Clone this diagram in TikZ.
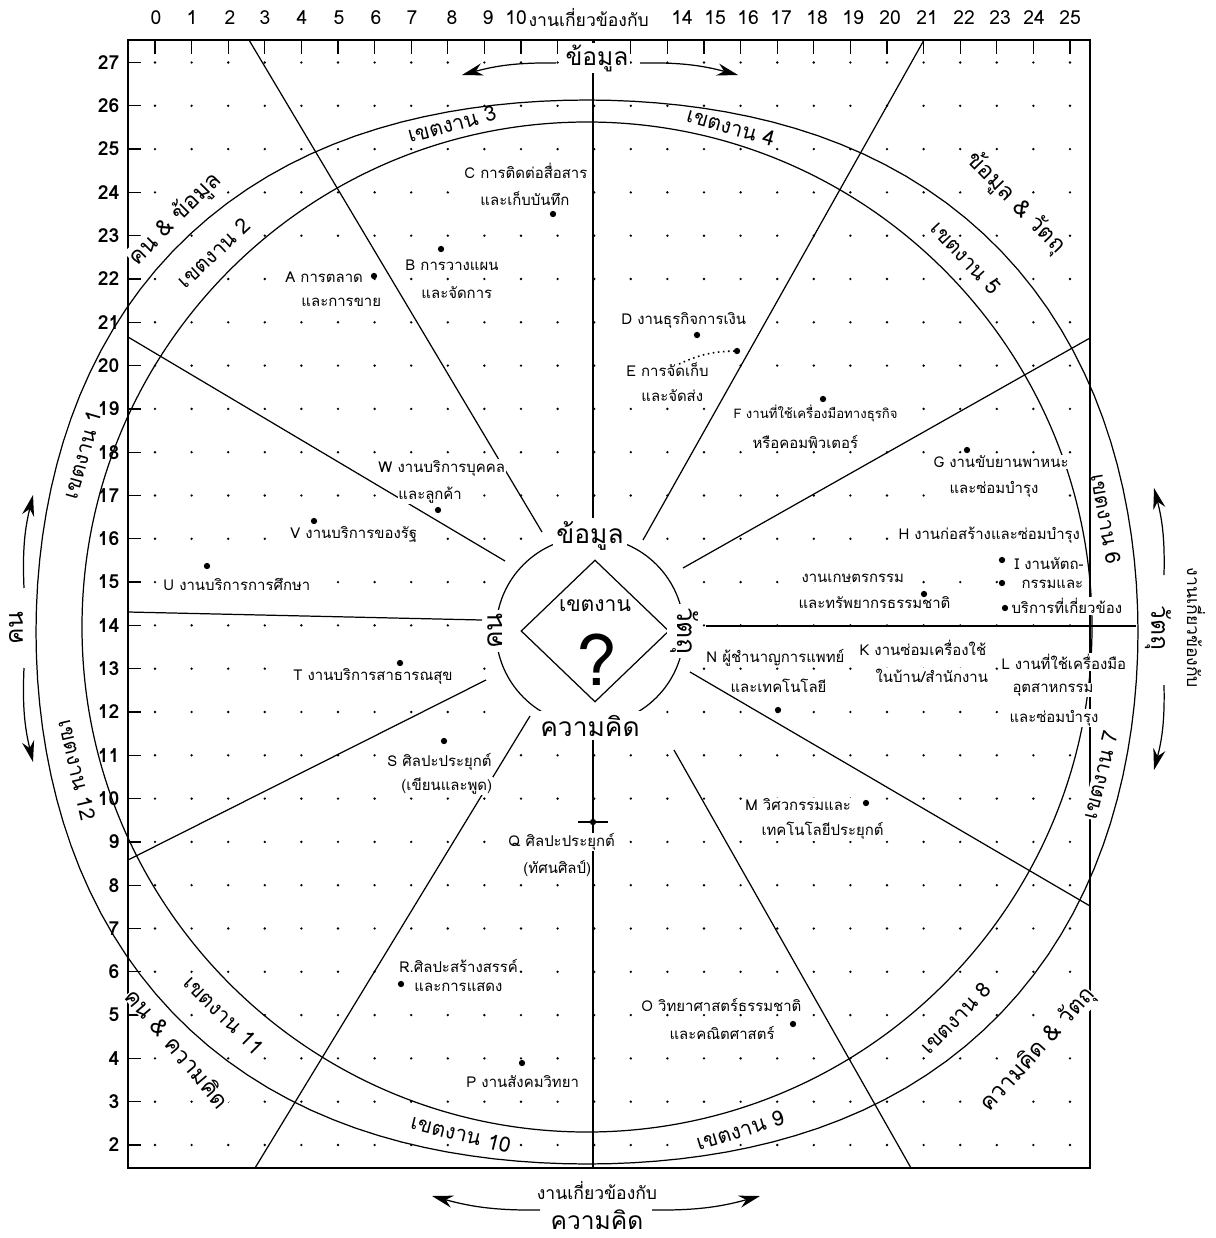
\documentclass[tikz,border=0pt]{standalone}
\usepackage{fontspec}
\setmainfont{Loma}[Script=Thai]
\usetikzlibrary{arrows.meta,shapes.geometric}

\begin{document}
\begin{tikzpicture}[x=0.02cm,y=-0.02cm,line width=0.7pt,
    >={Stealth[length=12pt,width=7pt]},
    joblbl/.style={font=\fontsize{8.5}{10}\selectfont,anchor=west,fill=white,inner sep=0.5pt},
    zonelbl/.style={font=\fontsize{12}{14}\selectfont,fill=white,inner sep=0pt},
    mixlbl/.style={font=\fontsize{13}{15}\selectfont,fill=white,inner sep=0pt},
    hublbl/.style={font=\fontsize{15}{17}\selectfont,fill=white,inner sep=2pt},
    sidelbl/.style={font=\fontsize{14}{16}\selectfont,fill=white,inner sep=1pt},
    relword/.style={font=\fontsize{10}{12}\selectfont,inner sep=0pt},
    axnum/.style={font=\fontsize{11}{12}\selectfont,inner sep=0pt}]
  \useasboundingbox (0,0) rectangle (1215,1238);

  % dot grid
  \foreach \c in {0,...,25}
    \foreach \r in {2,...,27}{
      \pgfmathsetmacro\gx{155+36.6*\c}
      \pgfmathsetmacro\gy{1145-43.3*(\r-2)}
      \pgfmathtruncatemacro\inring{((\gx-590)/10)^2+((\gy-631)/10)^2<120}
      \ifnum\inring=0 \fill (\gx,\gy) circle (0.75pt); \fi
    }

  % frame, ticks and scales
  \draw[line width=1.2pt] (128,40) rectangle (1090,1168);
  \foreach \c in {0,...,25}
    \draw ({155+36.6*\c},40) -- ({155+36.6*\c},54);
  \foreach \r in {2,...,27}
    \draw (128,{1145-43.3*(\r-2)}) -- (141,{1145-43.3*(\r-2)});
  \foreach \n/\x in {0/156,1/192,2/230,3/265,4/302,5/339,6/376,7/412,8/452,9/488,10/516,
      14/682,15/715,16/748,17/781,18/817,19/853,20/890,21/927,22/964,23/1000,24/1034,25/1070}
    \node[axnum] (top\n) at (\x,18) {\n};
  \node[relword,anchor=west] (topword) at (528,18) {งานเกี่ยวข้องกับ};
  \foreach \r in {2,...,27}
    \node[axnum,font=\fontsize{11}{12}\selectfont\bfseries,anchor=east] (row\r) at (120,{1145-43.3*(\r-2)}) {\r};

  % zone names in the band
  \node[zonelbl,rotate=74] (zone1) at (82,455) {เขตงาน 1};
  \node[zonelbl,rotate=43] (zone2) at (214,253) {เขตงาน 2};
  \node[zonelbl,rotate=15] (zone3) at (452,124) {เขตงาน 3};
  \node[zonelbl,rotate=-16] (zone4) at (731,127) {เขตงาน 4};
  \node[zonelbl,rotate=-47] (zone5) at (966,258) {เขตงาน 5};
  \node[zonelbl,rotate=-80] (zone6) at (1106,519) {เขตงาน 6};
  \node[zonelbl,rotate=76] (zone7) at (1100,775) {เขตงาน 7};
  \node[zonelbl,rotate=46] (zone8) at (956,1018) {เขตงาน 8};
  \node[zonelbl,rotate=17] (zone9) at (740,1130) {เขตงาน 9};
  \node[zonelbl,rotate=-14] (zone10) at (461,1134) {เขตงาน 10};
  \node[zonelbl,rotate=-45] (zone11) at (224,1015) {เขตงาน 11};
  \node[zonelbl,rotate=-77] (zone12) at (77,770) {เขตงาน 12};

  % corner names
  \node[mixlbl,rotate=45] (mixNW) at (175,219) {คน \& ข้อมูล};
  \node[mixlbl,rotate=-46] (mixNE) at (1016,203) {ข้อมูล \& วัตถุ};
  \node[mixlbl,rotate=48] (mixSE) at (1038,1050) {ความคิด \& วัตถุ};
  \node[mixlbl,rotate=-50] (mixSW) at (178,1048) {คน \& ความคิด};

  % band
  \draw plot[domain=0:360,samples=145,variable=\t]
    ({587+(551.75+9.5*cos(2*\t)-10.25*cos(4*\t))*cos(\t)},
     {632-(551.75+9.5*cos(2*\t)-10.25*cos(4*\t))*sin(\t)}) -- cycle;
  \draw (587,627) circle[radius=505];

  % spokes
  \draw (128,612) -- (482,620);
  \draw (128,337) -- (505,561);
  \draw (249,40) -- (542,532);
  \draw (593,40) -- (593,537);
  \draw (924,40) -- (643,540);
  \draw (1090,338) -- (683,568);
  \draw (706,626) -- (1136,626);
  \draw (690,672) -- (1090,906);
  \draw (674,750) -- (911,1168);
  \draw (593,728) -- (593,1168);
  \draw (530,716) -- (255,1168);
  \draw (486,680) -- (128,860);

  % hub
  \node[circle,draw,minimum size=3.76cm,inner sep=0pt] (ring) at (590,631) {};
  \node[diamond,draw,minimum width=2.96cm,minimum height=2.84cm,inner sep=0pt] (hub) at (595,631) {};
  \node[font=\fontsize{12}{14}\selectfont] (hubword) at (595,606) {เขตงาน};
  \node[font=\fontsize{40}{40}\selectfont] (hubmark) at (597,660) {?};
  \node[hublbl] (ringN) at (ring.north) {ข้อมูล};
  \node[hublbl] (ringS) at (ring.south) {ความคิด};
  \node[hublbl,rotate=90] (ringW) at (ring.west) {คน};
  \node[hublbl,rotate=-90] (ringE) at (ring.east) {วัตถุ};

  % outer names with arrows
  \node[sidelbl] (sideN) at (597,58) {ข้อมูล};
  \node[relword] (sideSword) at (597,1190) {งานเกี่ยวข้องกับ};
  \node[sidelbl] (sideS) at (597,1220) {ความคิด};
  \node[sidelbl,rotate=90] (sideW) at (16,628) {คน};
  \node[sidelbl,rotate=-90] (sideE) at (1158,628) {วัตถุ};
  \node[relword,rotate=-90] (sideEword) at (1196,628) {งานเกี่ยวข้องกับ};
  \coordinate (nA) at (556,63);   \coordinate (nB) at (462,75);
  \coordinate (nC) at (640,63);   \coordinate (nD) at (738,75);
  \coordinate (sA) at (540,1210); \coordinate (sB) at (432,1196);
  \coordinate (sC) at (652,1210); \coordinate (sD) at (760,1196);
  \coordinate (wA) at (24,588);   \coordinate (wB) at (33,495);
  \coordinate (wC) at (24,668);   \coordinate (wD) at (33,762);
  \coordinate (eA) at (1164,575); \coordinate (eB) at (1154,488);
  \coordinate (eC) at (1164,685); \coordinate (eD) at (1154,770);
  \draw[->] (nA) to[bend right=8] (nB);
  \draw[->] (nC) to[bend left=8] (nD);
  \draw[->] (sA) to[bend left=8] (sB);
  \draw[->] (sC) to[bend right=8] (sD);
  \draw[->] (wA) to[bend left=8] (wB);
  \draw[->] (wC) to[bend right=8] (wD);
  \draw[->] (eA) to[bend right=8] (eB);
  \draw[->] (eC) to[bend left=8] (eD);

  % job families
  \node[joblbl] (jobA1) at (284,277) {A การตลาด};
  \node[joblbl] (jobA2) at (300,302) {และการขาย};
  \node[joblbl] (jobB1) at (404,265) {B การวางแผน};
  \node[joblbl] (jobB2) at (420,293) {และจัดการ};
  \node[joblbl] (jobC1) at (463,171) {C การติดต่อสื่อสาร};
  \node[joblbl] (jobC2) at (479,199) {และเก็บบันทึก};
  \node[joblbl] (jobD1) at (620,320) {D งานธุรกิจการเงิน};
  \node[joblbl] (jobE1) at (625,370) {E การจัดเก็บ};
  \node[joblbl] (jobE2) at (640,396) {และจัดส่ง};
  \node[joblbl,font=\fontsize{7.5}{9}\selectfont] (jobF1) at (732,413) {F งานที่ใช้เครื่องมือทางธุรกิจ};
  \node[joblbl] (jobF2) at (751,442) {หรือคอมพิวเตอร์};
  \node[joblbl] (jobG1) at (932,462) {G งานขับยานพาหนะ};
  \node[joblbl] (jobG2) at (948,489) {และซ่อมบำรุง};
  \node[joblbl] (jobH1) at (897,535) {H งานก่อสร้างและซ่อมบำรุง};
  \node[joblbl] (jobI1) at (1013,564) {I งานหัตถ-};
  \node[joblbl] (jobI2) at (1020,584) {กรรมและ};
  \node[joblbl] (jobI3) at (1010,606) {บริการที่เกี่ยวข้อง};
  \node[joblbl] (jobJ1) at (800,578) {งานเกษตรกรรม};
  \node[joblbl] (jobJ2) at (797,603) {และทรัพยากรธรรมชาติ};
  \node[joblbl] (jobK1) at (858,648) {K งานซ่อมเครื่องใช้};
  \node[joblbl] (jobK2) at (874,676) {ในบ้าน/สำนักงาน};
  \node[joblbl] (jobL1) at (1000,662) {L งานที่ใช้เครื่องมือ};
  \node[joblbl] (jobL2) at (1011,690) {อุตสาหกรรม};
  \node[joblbl] (jobL3) at (1008,718) {และซ่อมบำรุง};
  \node[joblbl] (jobN1) at (705,658) {N ผู้ชำนาญการแพทย์};
  \node[joblbl] (jobN2) at (729,686) {และเทคโนโลยี};
  \node[joblbl] (jobM1) at (744,805) {M วิศวกรรมและ};
  \node[joblbl] (jobM2) at (760,831) {เทคโนโลยีประยุกต์};
  \node[joblbl] (jobO1) at (640,1005) {O วิทยาศาสตร์ธรรมชาติ};
  \node[joblbl] (jobO2) at (668,1033) {และคณิตศาสตร์};
  \node[joblbl] (jobP1) at (465,1082) {P งานสังคมวิทยา};
  \node[joblbl] (jobQ1) at (507,842) {Q ศิลปะประยุกต์};
  \node[joblbl] (jobQ2) at (522,869) {(ทัศนศิลป์)};
  \node[joblbl] (jobR1) at (398,966) {R.ศิลปะสร้างสรรค์};
  \node[joblbl] (jobR2) at (413,987) {และการแสดง};
  \node[joblbl] (jobS1) at (386,762) {S ศิลปะประยุกต์};
  \node[joblbl] (jobS2) at (400,786) {(เขียนและพูด)};
  \node[joblbl] (jobT1) at (292,676) {T งานบริการสาธารณสุข};
  \node[joblbl] (jobU1) at (162,584) {U งานบริการการศึกษา};
  \node[joblbl] (jobV1) at (289,534) {V งานบริการของรัฐ};
  \node[joblbl] (jobW1) at (377,468) {W งานบริการบุคคล};
  \node[joblbl] (jobW2) at (397,495) {และลูกค้า};

  % job points
  \foreach \px/\py in {374/276,441/249,553/214,697/335,823/399,967/450,
      1002/560,1002/583,1005/608,924/594,778/710,866/803,793/1024,
      522/1063,401/984,444/741,400/663,207/566,314/521,438/510}
    \fill (\px,\py) circle (1.8pt);
  \coordinate (dotE) at (737,351);
  \coordinate (tailE) at (679,364);
  \fill (dotE) circle (1.8pt);
  \draw[dotted,line width=0.9pt] (tailE) to[bend left=12] (dotE);
  \coordinate (dotQ) at (593,822);
  \fill (dotQ) circle (1.8pt);
  \draw ([xshift=-0.3cm]dotQ) -- ([xshift=0.3cm]dotQ);
\end{tikzpicture}
\end{document}
